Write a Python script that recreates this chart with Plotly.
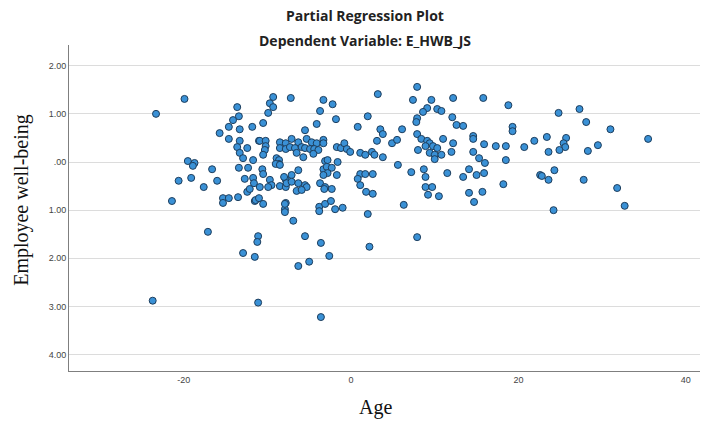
import plotly.graph_objects as go

age = [
    -19.9, -23.3, -13.6, -13.4, -14.1, -14.6, -13.3, -11.8, -15.7, -14.6, -13.3, -11.0, -13.6, -12.4, -13.3,
    -12.9, -11.7, -19.5, -18.7, -18.9, -16.6, -13.4, -12.3, -19.1, -20.6, -16.0, -17.6, -12.7, -11.7, -11.6,
    -21.4, -15.3, -14.6, -15.3, -13.5, -12.4, -12.1, -11.5, -17.1, -11.1, -11.2, -12.9, -11.5, -23.7, -11.1,
    -9.3, -9.7, -9.3, -9.9, -10.5, -10.9, -10.2, -8.5, -7.8, -10.2, -10.3, -10.5, -8.5, -7.8, -8.9,
    -8.6, -8.6, -9.0, -10.6, -10.5, -10.9, -9.7, -9.5, -8.5, -7.8, -7.8, -11.4, -11.0, -10.5, -7.8, -7.9,
    -7.2, -3.3, -2.2, -3.7, 3.2, 2.0, -1.8, -4.1, 0.8, -5.5, 3.5, 3.8, 3.1,
    -7.1, -6.3, -5.3, -4.7, -4.1, -3.3, -3.3,
    -7.3, -6.7, -6.5, -5.9, -5.5, -4.9, -4.4, -3.9, -4.5, -5.7, -1.7, -1.2, -0.8, -0.5, -0.1,
    1.1, 1.7, 2.5, 2.8, 3.8, -8.5, -3.1, -2.8, -1.6, -7.1, -6.3, -3.3, -2.9, -2.3, -2.8, -3.3, -1.7,
    1.1, 1.7, 2.6, -9.9, -8.0, -7.7, -7.1, -6.3, -5.5, -5.3, -3.7, -3.1, 0.8, 1.1,
    -6.5, -5.9, -3.2, -2.3, 1.8, 2.6, -7.9, -7.9, -6.9, -3.8, -3.8, -3.1, -2.4, -1.9, -1.0, 2.0,
    -5.5, -3.6, 2.2, -2.6, -6.3, -5.0, -3.6,
    7.9, 7.4, 9.6, 12.2, 15.8, 18.8, 9.1, 8.6, 10.3, 10.8, 7.9, 7.8, 12.1, 12.6, 13.4, 6.1, 19.3, 19.3,
    7.9, 8.4, 4.9, 5.5, 9.1, 9.4, 9.8, 10.3, 8.9, 11.0, 12.2, 14.6, 14.6, 15.9, 17.3, 18.5, 20.7, 21.9,
    8.0, 9.4, 10.0, 10.0, 10.8, 12.0, 14.6, 15.3, 16.0, 18.5, 5.6, 7.2, 8.7, 8.9, 11.5, 13.4, 14.1,
    15.0, 15.9, 8.9, 9.7, 9.2, 10.5, 14.1, 15.7, 14.7, 18.2, 6.3, 7.9, 22.6,
    24.8, 27.3, 28.1, 31.0, 35.5, 23.4, 25.7, 25.4, 25.6, 24.9, 23.6, 28.3, 29.5, 24.3, 22.8, 23.6,
    27.8, 31.8, 32.7, 24.2,
]

wellbeing = [
    1.31, 1.00, 1.14, 0.95, 0.87, 0.73, 0.68, 0.73, 0.60, 0.48, 0.44, 0.44, 0.31, 0.29, 0.19,
    0.08, 0.04, 0.02, -0.02, -0.08, -0.15, -0.12, -0.12, -0.33, -0.39, -0.39, -0.52, -0.35, -0.33, -0.44,
    -0.81, -0.75, -0.75, -0.85, -0.73, -0.62, -0.56, -0.81, -1.45, -1.54, -1.66, -1.89, -1.97, -2.88, -2.92,
    1.35, 1.22, 1.14, 1.02, 0.81, 0.44, 0.44, 0.41, 0.39, 0.33, 0.25, 0.15, 0.29, 0.27, 0.08,
    0.04, -0.04, -0.04, -0.15, -0.25, -0.52, -0.37, -0.48, -0.50, -0.52, -0.37, -0.79, -0.75, -0.87, -0.85, -0.98,
    1.33, 1.29, 1.20, 1.06, 1.41, 0.95, 0.89, 0.79, 0.73, 0.66, 0.68, 0.58, 0.44,
    0.48, 0.41, 0.48, 0.41, 0.39, 0.46, 0.39,
    0.31, 0.29, 0.19, 0.31, 0.29, 0.27, 0.27, 0.25, 0.17, 0.10, 0.31, 0.29, 0.39, 0.27, 0.21,
    0.19, 0.15, 0.21, 0.15, 0.10, -0.06, 0.02, 0.04, 0.00, -0.27, -0.17, -0.15, -0.10, -0.12, -0.23, -0.27, -0.27,
    -0.25, -0.25, -0.25, -0.52, -0.31, -0.44, -0.41, -0.44, -0.48, -0.52, -0.44, -0.52, -0.35, -0.48,
    -0.60, -0.58, -0.56, -0.56, -0.62, -0.66, -0.87, -1.04, -1.22, -0.93, -1.02, -0.87, -0.81, -0.98, -0.95, -1.08,
    -1.54, -1.68, -1.76, -1.95, -2.16, -2.07, -3.22,
    1.56, 1.29, 1.29, 1.33, 1.33, 1.18, 1.12, 1.04, 1.10, 1.06, 0.91, 0.83, 0.93, 0.77, 0.75, 0.68, 0.73, 0.64,
    0.58, 0.48, 0.39, 0.46, 0.44, 0.39, 0.33, 0.29, 0.33, 0.48, 0.39, 0.54, 0.48, 0.37, 0.33, 0.33, 0.31, 0.44,
    0.25, 0.19, 0.15, 0.06, 0.15, 0.21, 0.21, 0.08, -0.02, 0.04, -0.06, -0.21, -0.15, -0.31, -0.23, -0.31, -0.15,
    -0.27, -0.23, -0.52, -0.52, -0.68, -0.71, -0.64, -0.62, -0.83, -0.46, -0.89, -1.56, -0.27,
    1.02, 1.10, 0.83, 0.68, 0.48, 0.52, 0.50, 0.39, 0.31, 0.25, 0.21, 0.23, 0.35, -0.17, -0.29, -0.37,
    -0.37, -0.54, -0.91, -1.00,
]

x_tick_vals = [-20, 0, 20, 40]
x_tick_text = ["-20", "0", "20", "40"]
y_tick_vals = [2, 1, 0, -1, -2, -3, -4]
y_tick_text = ["2.00", "1.00", ".00", "1.00", "2.00", "3.00", "4.00"]

title_main = "Partial Regression Plot"
title_sub = "Dependent Variable: E_HWB_JS"
x_title = "Age"
y_title = "Employee well-being"

fig = go.Figure()
fig.add_trace(go.Scatter(
    x=age, y=wellbeing, mode="markers",
    marker=dict(size=7, color="#3a91d6", line=dict(width=1, color="#1d3d5c")),
    hoverinfo="x+y", showlegend=False,
))

fig.update_layout(
    width=714, height=423,
    margin=dict(l=69, r=14, t=45, b=52),
    paper_bgcolor="white", plot_bgcolor="white",
    font=dict(family="Liberation Sans, Arial, sans-serif", size=9, color="#444444"),
    xaxis=dict(
        range=[-33.7, 41.7], tickvals=x_tick_vals, ticktext=x_tick_text,
        showgrid=False, zeroline=False, showline=True, linecolor="#7f7f7f", linewidth=1,
        ticks="", tickfont=dict(size=9, color="#444444"),
    ),
    yaxis=dict(
        range=[-4.34, 2.43], tickvals=y_tick_vals, ticktext=y_tick_text,
        showgrid=True, gridcolor="#dcdcdc", gridwidth=1, zeroline=False,
        showline=True, linecolor="#7f7f7f", linewidth=1,
        ticks="", tickfont=dict(size=9, color="#444444"),
    ),
    annotations=[
        dict(text="<b>" + title_main + "</b>", xref="paper", yref="paper", x=0.469, y=1.092,
             xanchor="center", yanchor="middle",
             showarrow=False, font=dict(family="Open Sans, sans-serif", size=14, color="#222222")),
        dict(text="<b>" + title_sub + "</b>", xref="paper", yref="paper", x=0.469, y=1.015,
             xanchor="center", yanchor="middle",
             showarrow=False, font=dict(family="Open Sans, sans-serif", size=14, color="#222222")),
        dict(text=x_title, xref="paper", yref="paper", x=0.485, y=-0.113,
             xanchor="center", yanchor="middle",
             showarrow=False, font=dict(family="Liberation Serif, Times New Roman, serif", size=20, color="#111111")),
        dict(text=y_title, xref="paper", yref="paper", x=-0.0745, y=0.525, textangle=-90,
             xanchor="center", yanchor="middle",
             showarrow=False, font=dict(family="Liberation Serif, Times New Roman, serif", size=20, color="#111111")),
    ],
)

fig.write_html("out.html")
